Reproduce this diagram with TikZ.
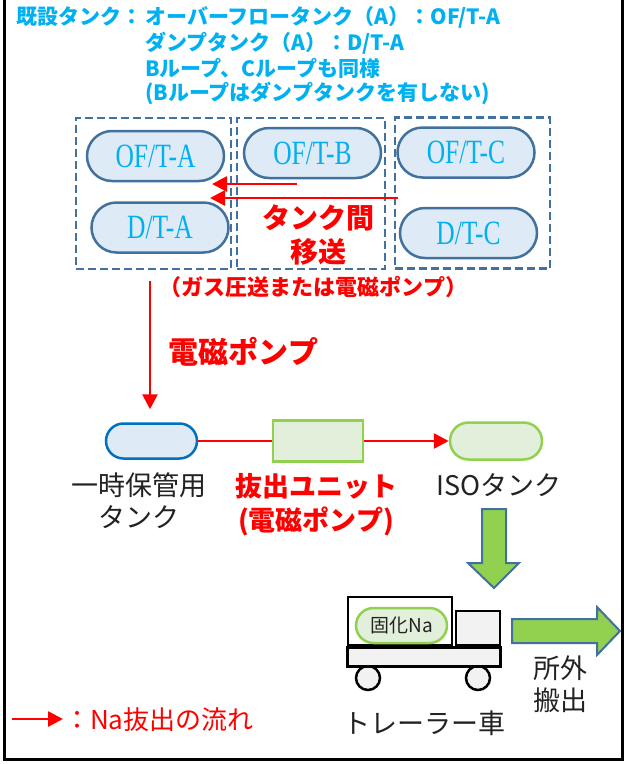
\documentclass[tikz,border=0pt]{standalone}
\usepackage{fontspec}
\setmainfont{Noto Sans CJK JP}
\newfontfamily\jp{Noto Sans CJK JP}
\newfontfamily\tankfont[FakeStretch=0.75]{Liberation Serif}
\usetikzlibrary{arrows.meta}
\definecolor{cyanT}{HTML}{00B0F0}
\definecolor{tankBorder}{HTML}{41719C}
\definecolor{tankFill}{HTML}{DEEBF7}
\definecolor{tmpBorder}{HTML}{0070C0}
\definecolor{grnBorder}{HTML}{92D050}
\definecolor{grnFill}{HTML}{E2EFDA}
\definecolor{grnArrow}{HTML}{92D050}
\definecolor{redA}{HTML}{FF0000}
\definecolor{txtBlack}{HTML}{222222}
\definecolor{truckFill}{HTML}{F2F2F2}
\tikzset{
  bluetxt/.style={anchor=west, text=cyanT, inner sep=0pt, font={\jp\bfseries\fontsize{21pt}{25pt}\selectfont}},
  tankbox/.style={draw=tankBorder, fill=tankFill, line width=2.5pt, minimum width=137pt, minimum height=50pt, rounded corners=25pt, inner sep=0pt, text=cyanT, font={\tankfont\fontsize{34pt}{36pt}\selectfont}},
  loopbox/.style={draw=tankBorder, line width=2.3pt, dash pattern=on 8pt off 4pt, inner sep=0pt},
  redflow/.style={draw=redA, line width=2.7pt},
  redarrow/.style={redflow, -{Triangle[length=15pt,width=15pt]}},
  redbold/.style={text=redA, inner sep=0pt, align=center, font={\jp\bfseries\fontsize{28pt}{34pt}\selectfont}},
  blacktxt/.style={text=txtBlack, inner sep=0pt, align=center, font={\jp\fontsize{27pt}{32pt}\selectfont}},
  grnpill/.style={draw=grnBorder, fill=grnFill, line width=2.5pt, inner sep=0pt},
  blockarrow/.style={draw=tankBorder, fill=grnArrow, line width=2pt, line join=miter},
  truckpart/.style={draw=black, line width=2.5pt},
}
\begin{document}
\begin{tikzpicture}[x=1pt,y=-1pt]
\useasboundingbox (0,0) rectangle (625,764);
% frame
\draw[line width=3.5pt, line join=miter] (4.5,0) -- (4.5,759.5) -- (622.5,759.5) -- (622.5,0);

% top explanation
\node[bluetxt] (t0) at (16,17) {既設タンク：};
\node[bluetxt] (t1) at (145,17) {オーバーフロータンク（A）：OF/T-A};
\node[bluetxt] (t2) at (145,43) {ダンプタンク（A）：D/T-A};
\node[bluetxt] (t3) at (145,68) {Bループ、Cループも同様};
\node[bluetxt] (t4) at (145,93) {(Bループはダンプタンクを有しない)};

% loop boxes
\node[loopbox, minimum width=155pt, minimum height=151pt] (boxA) at (153.5,193.5) {};
\node[loopbox, minimum width=148pt, minimum height=151pt] (boxB) at (311,193.5) {};
\node[loopbox, minimum width=155pt, minimum height=151pt] (boxC) at (472.5,193) {};

% tanks
\node[tankbox] (ofa) at (155.5,156) {OF/T-A};
\node[tankbox] (dta) at (160,227.5) {D/T-A};
\node[tankbox] (ofb) at (312.5,153) {OF/T-B};
\node[tankbox] (ofc) at (466,152.5) {OF/T-C};
\node[tankbox] (dtc) at (468.5,233) {D/T-C};

% transfer arrows
\coordinate (b1) at (297,184);
\coordinate (a1) at (212,184);
\coordinate (c2) at (398,198);
\coordinate (a2) at (210,198);
\draw[redarrow] (b1) -- (a1);
\draw[redarrow] (c2) -- (a2);

\node[redbold] (xfer) at (318,235) {タンク間\\移送};
\node[redbold, font={\jp\bfseries\fontsize{22pt}{26pt}\selectfont}] (gas) at (313.5,287) {（ガス圧送または電磁ポンプ）};

% pump arrow
\coordinate (pstart) at (150,281);
\node[redbold, font={\jp\bfseries\fontsize{30pt}{34pt}\selectfont}] (pump) at (243.5,352) {電磁ポンプ};

% middle row
\node[draw=tmpBorder, fill=tankFill, line width=2.5pt, minimum width=91pt, minimum height=35pt, rounded corners=17.5pt, inner sep=0pt] (tmp) at (151.5,441) {};
\node[grnpill, minimum width=90pt, minimum height=41pt] (unit) at (318,441) {};
\node[grnpill, minimum width=92pt, minimum height=37pt, rounded corners=18.5pt] (iso) at (496,441) {};

\draw[redarrow] (pstart) -- ([yshift=13pt]tmp.north -| pstart);
\draw[redflow] (tmp.east) -- (unit.west);
\draw[redarrow] (unit.east) -- (iso.west);

\node[blacktxt] (tmplbl) at (139,501) {一時保管用\\タンク};
\node[redbold, font={\jp\bfseries\fontsize{27pt}{34pt}\selectfont}] (unitlbl) at (316,505) {抜出ユニット\\(電磁ポンプ)};
\node[blacktxt] (isolbl) at (499,485) {ISOタンク};

% block arrows
\draw[blockarrow] (482,509) -- (506,509) -- (506,563) -- (519,563) -- (494,588) -- (468,563) -- (482,563) -- cycle;
\draw[blockarrow] (512,619) -- (597,619) -- (597,607) -- (620,631) -- (597,655) -- (597,643) -- (512,643) -- cycle;

% truck
\draw[truckpart, fill=truckFill] (368,678) circle (12);
\draw[truckpart, fill=truckFill] (478,678) circle (12);
\draw[truckpart, fill=white] (348,597) rectangle (452,645);
\draw[truckpart, fill=truckFill] (456,611) rectangle (500,645);
\draw[truckpart, line width=3pt, fill=truckFill] (347,647) rectangle (500,666);
\node[grnpill, minimum width=91pt, minimum height=35pt, rounded corners=17.5pt, text=txtBlack, font={\jp\fontsize{19pt}{22pt}\selectfont}] (solid) at (401.5,625.5) {固化Na};

\node[blacktxt] (trlbl) at (424.5,723) {トレーラー車};
\node[blacktxt] (outlbl) at (560,684) {所外\\搬出};

% legend
\coordinate (l1) at (12,719);
\coordinate (l2) at (63,719);
\draw[redarrow] (l1) -- (l2);
\node[anchor=west, inner sep=0pt, text=redA, font={\jp\fontsize{26pt}{30pt}\selectfont}] (leg) at (64,720) {：Na抜出の流れ};
\end{tikzpicture}
\end{document}
